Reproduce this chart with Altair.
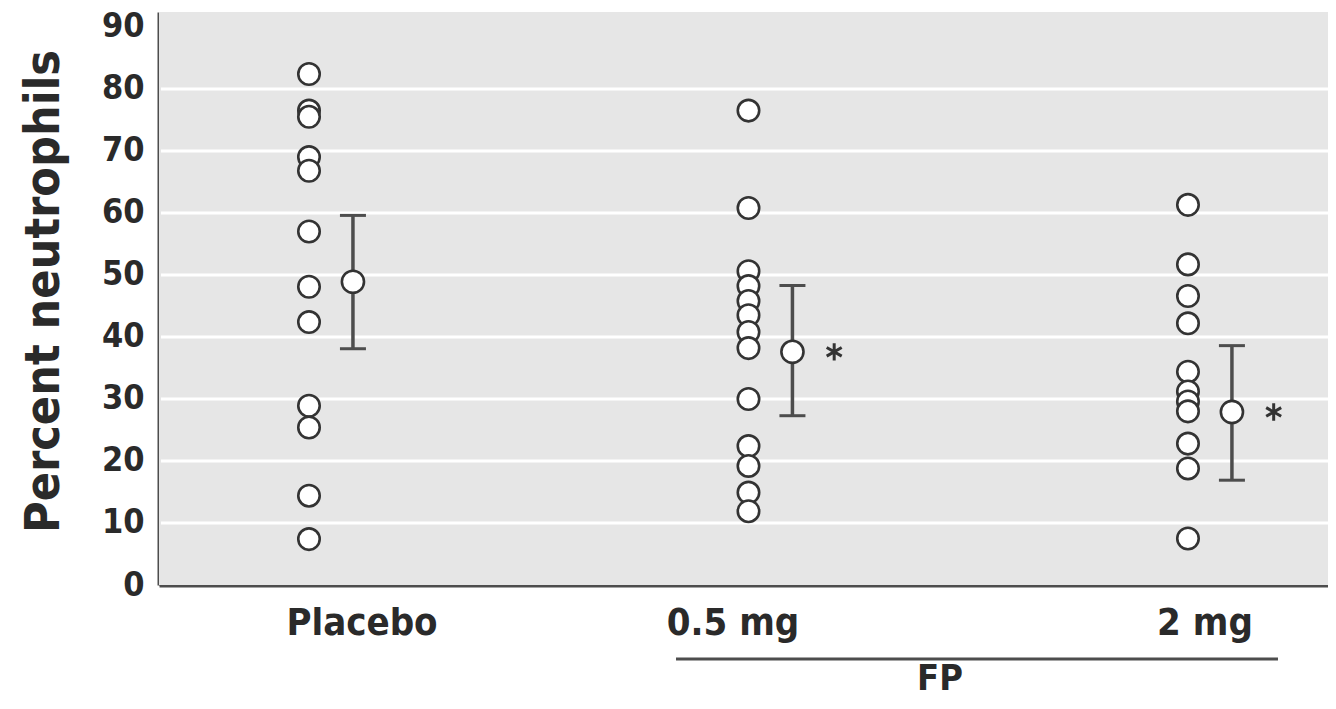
import altair as alt
import pandas as pd

# ---------------- data ----------------
groups = ["Placebo", "0.5 mg", "2 mg"]
group_pos = [1, 2, 3]
placebo_vals = [82.4, 76.5, 75.5, 69.0, 66.8, 57.0, 48.1, 42.4, 28.9, 25.4, 14.4, 7.4]
fp05_vals = [76.5, 60.8, 50.6, 48.2, 45.8, 43.5, 40.8, 38.2, 30.0, 22.4, 19.2, 14.9, 11.9]
fp2_vals = [61.3, 51.7, 46.6, 42.2, 34.4, 31.2, 29.6, 28.0, 22.8, 18.8, 7.5]
means = [48.9, 37.6, 27.9]
err_hi = [59.6, 48.3, 38.6]
err_lo = [38.1, 27.3, 16.9]
significant = [False, True, True]
y_ticks = [0, 10, 20, 30, 40, 50, 60, 70, 80, 90]
grid_vals = [10, 20, 30, 40, 50, 60, 70, 80]
bracket_label = "FP"

# ---------------- layout constants ----------------
FONT = "Liberation Sans Narrow, DejaVu Sans Condensed, Liberation Sans, sans-serif"
PLOT_W, PLOT_H = 1169, 573
X0, X1 = 0.6587, 3.3186
MEAN_OFF = 0.1
STAR_OFF = 0.195
LABEL_X = [1.1206, 1.9647, 3.0387]
BRACKET_X = (1.8351, 3.2048)
FP_X = 2.4357
INK = "#2a2a2a"
LINE = "#4d4d4d"
BG = "#e6e6e6"

xs = alt.Scale(domain=[X0, X1], nice=False, zero=False)
ys = alt.Scale(domain=[0, 92.4], nice=False, zero=False)

xaxis = alt.Axis(labels=False, ticks=False, grid=False, title=None,
                 domainColor=LINE, domainWidth=4)
yaxis = alt.Axis(values=y_ticks, grid=False, ticks=False, labelPadding=15,
                 labelFont=FONT, labelFontWeight="bold", labelFontSize=34,
                 labelColor=INK, labelBaseline="middle", labelOverlap=False,
                 domainColor=LINE, domainWidth=4,
                 title="Percent neutrophils", titleFont=FONT, titleFontWeight="bold",
                 titleFontSize=48, titleColor=INK, titleAngle=270,
                 titleX=-101, titleY=279, titleAlign="center",
                 titleBaseline="alphabetic")

# ---------------- tables ----------------
pts = pd.DataFrame({
    "x": [group_pos[0]] * len(placebo_vals) + [group_pos[1]] * len(fp05_vals)
         + [group_pos[2]] * len(fp2_vals),
    "v": placebo_vals + fp05_vals + fp2_vals,
})
summ = pd.DataFrame({
    "grp": group_pos, "mean": means, "hi": err_hi, "lo": err_lo,
    "sig": significant, "label": groups, "lx": LABEL_X,
})
grid_df = pd.DataFrame({"v": grid_vals})
bracket_df = pd.DataFrame({"x1": [BRACKET_X[0]], "x2": [BRACKET_X[1]],
                           "fx": [FP_X], "t": [bracket_label]})

# ---------------- layers ----------------
background = alt.Chart(bracket_df).mark_rect(color=BG).encode(
    x=alt.value(0), x2=alt.value(PLOT_W), y=alt.value(0), y2=alt.value(PLOT_H)
)

grid = alt.Chart(grid_df).mark_rule(color="white", strokeWidth=3).encode(
    y=alt.Y("v:Q", scale=ys, axis=yaxis),
    x=alt.value(2), x2=alt.value(PLOT_W),
)

points = alt.Chart(pts).mark_point(
    shape="circle", filled=True, fill="white", stroke="#333333",
    strokeWidth=2.6, size=460, opacity=1
).encode(
    x=alt.X("x:Q", scale=xs, axis=xaxis),
    y=alt.Y("v:Q", scale=ys, axis=yaxis),
)

summ_base = alt.Chart(summ).transform_calculate(
    mx=f"datum.grp + {MEAN_OFF}",
    sx=f"datum.grp + {STAR_OFF}",
)

err = summ_base.mark_rule(color=LINE, strokeWidth=3.5).encode(
    x=alt.X("mx:Q", scale=xs, axis=xaxis),
    y=alt.Y("lo:Q", scale=ys, axis=yaxis),
    y2="hi:Q",
)

cap_hi = summ_base.mark_point(shape="M-1,0L1,0", filled=False, stroke=LINE,
                              strokeWidth=3, size=676, opacity=1).encode(
    x=alt.X("mx:Q", scale=xs, axis=xaxis),
    y=alt.Y("hi:Q", scale=ys, axis=yaxis),
)
cap_lo = summ_base.mark_point(shape="M-1,0L1,0", filled=False, stroke=LINE,
                              strokeWidth=3, size=676, opacity=1).encode(
    x=alt.X("mx:Q", scale=xs, axis=xaxis),
    y=alt.Y("lo:Q", scale=ys, axis=yaxis),
)

mean_pts = summ_base.mark_point(
    shape="circle", filled=True, fill="white", stroke="#333333",
    strokeWidth=2.6, size=490, opacity=1
).encode(
    x=alt.X("mx:Q", scale=xs, axis=xaxis),
    y=alt.Y("mean:Q", scale=ys, axis=yaxis),
)

stars = summ_base.transform_filter("datum.sig").mark_point(
    shape="M0,-1L0,1M-0.866,-0.5L0.866,0.5M-0.866,0.5L0.866,-0.5",
    filled=False, stroke="#333333", strokeWidth=3, size=300, opacity=1
).encode(
    x=alt.X("sx:Q", scale=xs, axis=xaxis),
    y=alt.Y("mean:Q", scale=ys, axis=yaxis),
)

cat_labels = alt.Chart(summ).mark_text(
    font=FONT, fontWeight="bold", fontSize=38, baseline="alphabetic",
    align="center", color=INK
).encode(
    x=alt.X("lx:Q", scale=xs, axis=xaxis),
    y=alt.value(623),
    text="label:N",
)

bracket = alt.Chart(bracket_df).mark_rule(color=LINE, strokeWidth=3).encode(
    x=alt.X("x1:Q", scale=xs, axis=xaxis),
    x2="x2:Q",
    y=alt.value(647),
)

fp_text = alt.Chart(bracket_df).mark_text(
    font=FONT, fontWeight="bold", fontSize=36, baseline="alphabetic",
    align="center", color=INK
).encode(
    x=alt.X("fx:Q", scale=xs, axis=xaxis),
    y=alt.value(678),
    text="t:N",
)

chart = alt.layer(
    background, grid, points, err, cap_hi, cap_lo, mean_pts, stars,
    cat_labels, bracket, fp_text
).properties(
    width=PLOT_W, height=PLOT_H,
    autosize=alt.AutoSizeParams(type="none"),
    padding={"left": 151, "top": 4, "right": 0, "bottom": 116},
).configure_view(
    fill=BG, stroke=None
).configure(background="white")

chart.save("out.html", embed_options={"renderer": "svg", "actions": False})
